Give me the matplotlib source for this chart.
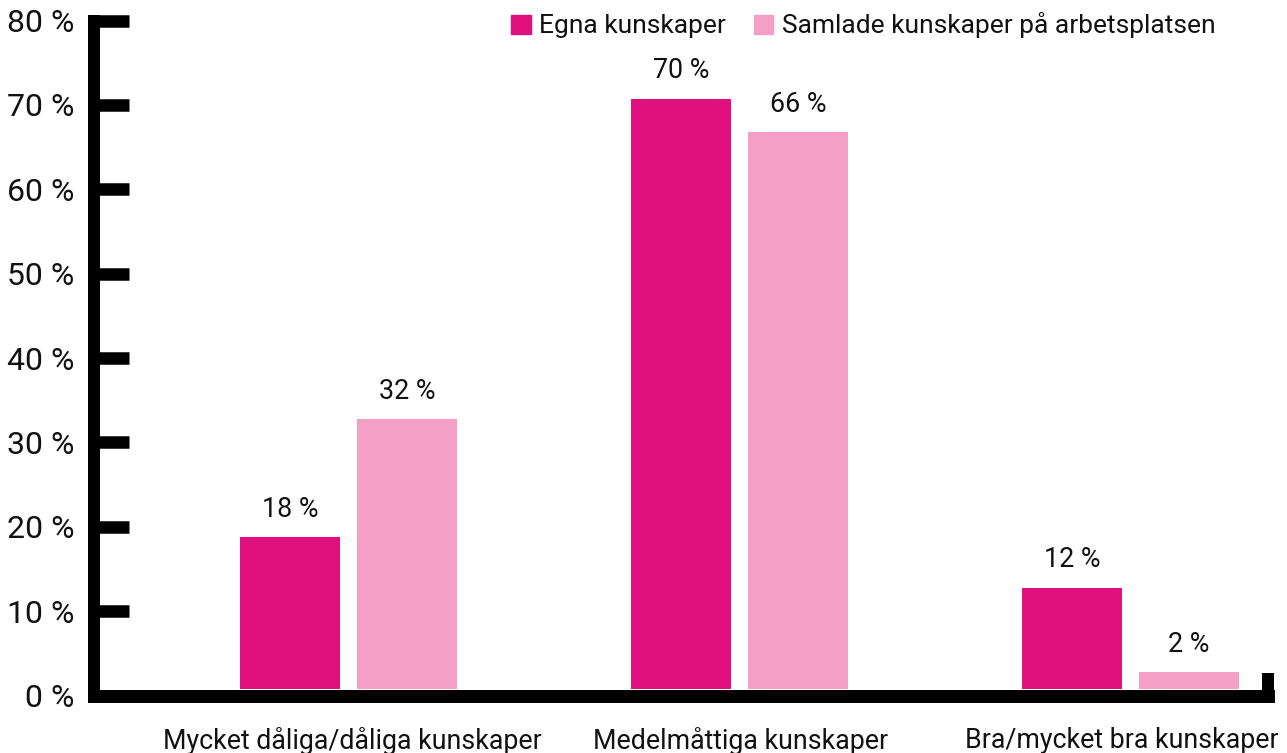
import numpy as np
import matplotlib
matplotlib.use("Agg")
import matplotlib.pyplot as plt
import matplotlib.patches as mpatches
import matplotlib.transforms as mtransforms

plt.rcParams["font.family"] = ["Roboto", "DejaVu Sans"]

categories = ["Mycket dåliga/dåliga kunskaper", "Medelmåttiga kunskaper",
              "Bra/mycket bra kunskaper"]
series_names = ["Egna kunskaper", "Samlade kunskaper på arbetsplatsen"]
egna = [18, 70, 12]
samlade = [32, 66, 2]
yticks = [0, 10, 20, 30, 40, 50, 60, 70, 80]

DARK = "#e0117f"
LIGHT = "#f39fc6"
W, H = 1287, 753
PX = 72 / 100  # points per pixel at dpi 100

fig = plt.figure(figsize=(W / 100, H / 100), dpi=100)
ax = fig.add_axes([94 / W, (H - 695.5) / H, (1268 - 94) / W, (695.5 - 20.5) / H])

x = np.arange(len(categories))
bw = 100 / 391
off = 58.5 / 391
base = 0.75  # bars sit on top of the thick axis line

b1 = ax.bar(x - off, egna, bw, bottom=base, color=DARK, zorder=1)
b2 = ax.bar(x + off, samlade, bw, bottom=base, color=LIGHT, zorder=1)
for bars, vals in ((b1, egna), (b2, samlade)):
    ax.bar_label(bars, labels=[f"{v} %" for v in vals], padding=10.5,
                 fontsize=19.4, color="#111111")

ax.set_xlim((94 - 348.5) / 391, (1268 - 348.5) / 391)
ax.set_ylim(0, 80)

for side in ("top", "right"):
    ax.spines[side].set_visible(False)
ax.spines["left"].set_linewidth(12 * PX)
ax.spines["bottom"].set_linewidth(13 * PX)
for side in ("left", "bottom"):
    ax.spines[side].set_capstyle("projecting")
    ax.spines[side].set_zorder(3)

ax.set_yticks(yticks)
ax.set_yticklabels([f"{t} %" for t in yticks])
ax.tick_params(axis="y", direction="in", length=35 * PX, width=12.5 * PX,
               pad=14, labelsize=23, labelcolor="#111111")

ax.set_xticks(x)
ax.set_xticklabels(categories)
ax.tick_params(axis="x", which="major", length=0, pad=22.5, labelsize=19.3,
               labelcolor="#111111")
# small horizontal nudges so the last label stays inside the figure
for lab, dx in zip(ax.get_xticklabels(), [3.5, 1.5, -9]):
    lab.set_transform(lab.get_transform() +
                      mtransforms.ScaledTranslation(dx / 100, 0, fig.dpi_scale_trans))
ax.set_xticks([ax.get_xlim()[1]], minor=True)
ax.tick_params(axis="x", which="minor", direction="in", length=23 * PX,
               width=12 * PX)

handles = [mpatches.Patch(color=DARK, label=series_names[0]),
           mpatches.Patch(color=LIGHT, label=series_names[1])]
fig.legend(handles=handles, loc="center left",
           bbox_to_anchor=(511 / W, 1 - 25.5 / H), ncol=2, frameon=False,
           fontsize=19, handlelength=0.74, handleheight=0.74,
           handletextpad=0.33, columnspacing=1.05, borderpad=0,
           borderaxespad=0, labelcolor="#111111")

fig.savefig("out.png", dpi=100)
